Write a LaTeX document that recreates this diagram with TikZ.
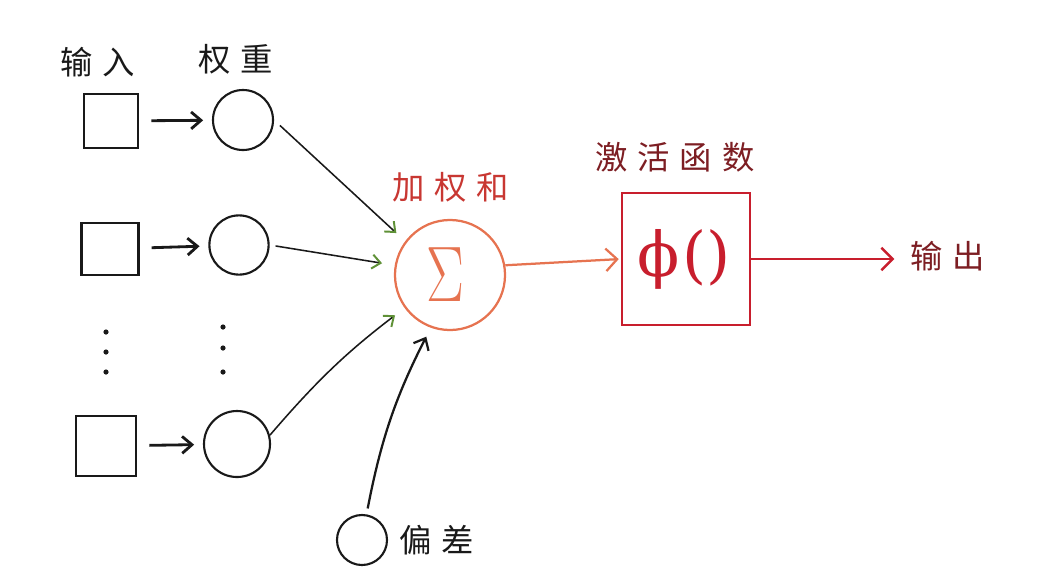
\RequirePackage{fix-cm}
\documentclass[tikz,border=0pt]{standalone}
\usepackage{fontspec}
\usepackage{graphicx}
\newfontfamily\cjk{Noto Sans CJK SC}
\newfontfamily\symf{DejaVu Serif}
\usetikzlibrary{arrows.meta}
\definecolor{ink}{RGB}{25,25,25}
\definecolor{sumcol}{RGB}{230,115,80}
\definecolor{sumtxt}{RGB}{200,55,50}
\definecolor{actcol}{RGB}{200,30,45}
\definecolor{acttxt}{RGB}{125,30,35}
\definecolor{headgreen}{RGB}{95,145,55}
\begin{document}
\begin{tikzpicture}[x=0.025cm,y=-0.025cm,
  lbl/.style={font=\cjk\fontsize{23pt}{26pt}\selectfont, inner sep=0pt},
  inbox/.style={draw=ink, line width=1.8pt, inner sep=0pt},
  wcirc/.style={draw=ink, line width=1.5pt, circle, inner sep=0pt},
  inarrow/.style={draw=ink, line width=2pt, -{Straight Barb[length=7pt,width=12pt,line width=2pt]}, shorten <=0.3cm, shorten >=0.22cm},
  sumarrow/.style={draw=ink, line width=1.1pt, -{Straight Barb[length=6pt,width=10pt,line width=1.4pt,color=headgreen]}},
  biasarrow/.style={draw=ink, line width=1.6pt, -{Straight Barb[length=7pt,width=12pt,line width=1.6pt]}},
]
\useasboundingbox (0,0) rectangle (1057,574);

% labels
\node[lbl, text=ink] (lin) at (98,62) {输\hspace{7pt}入};
\node[lbl, text=ink] (lw) at (236,59) {权\hspace{7pt}重};

% inputs
\node[inbox, minimum width=1.35cm, minimum height=1.35cm] (x1) at (111,121) {};
\node[inbox, minimum width=1.42cm, minimum height=1.3cm] (x2) at (110,249) {};
\node[inbox, minimum width=1.5cm, minimum height=1.5cm] (x3) at (106,446) {};

% weights
\node[wcirc, minimum size=1.5cm] (w1) at (243,120) {};
\node[wcirc, minimum size=1.48cm] (w2) at (239,245) {};
\node[wcirc, minimum size=1.65cm] (w3) at (237,444) {};

% dots
\foreach \yy in {332,352,372} \fill[ink] (106,\yy) circle (0.065cm);
\foreach \yy in {327,348,372} \fill[ink] (223,\yy) circle (0.065cm);

% bias
\node[wcirc, minimum size=1.25cm] (b) at (362,540) {};
\node[lbl, text=ink] (lb) at (437,540) {偏\hspace{7pt}差};

% sum
\node[draw=sumcol, line width=1.6pt, circle, minimum size=2.75cm, inner sep=0pt, text=sumcol] (s) at (450,275)
  {\hspace*{-0.25cm}\scalebox{0.72}[1]{\fontsize{56pt}{60pt}\selectfont$\Sigma$}};
\node[lbl, text=sumtxt] (ls) at (451,187) {加\hspace{7pt}权\hspace{7pt}和};

% activation
\node[draw=actcol, line width=1.8pt, minimum width=3.2cm, minimum height=3.3cm, inner sep=0pt, text=actcol] (f) at (686,259)
  {\hspace*{-0.1cm}\symf\fontsize{44pt}{50pt}\selectfont ϕ\kern2pt()};
\node[lbl, text=acttxt] (lf) at (675,157) {激\hspace{7pt}活\hspace{7pt}函\hspace{7pt}数};

% output
\node[lbl, text=acttxt] (o) at (948,256) {输\hspace{7pt}出};

% connectors
\draw[inarrow] (x1) -- (w1);
\draw[inarrow] (x2) -- (w2);
\draw[inarrow] (x3) -- (w3);

\draw[sumarrow, shorten <=0.2cm, shorten >=0.3cm] (w1.east) -- (s.143);
\draw[sumarrow, shorten <=0.15cm, shorten >=0.32cm] (w2.east) -- (s.170);
\draw[sumarrow, shorten >=0.3cm] (w3.15) to[bend left=6] (s.216);
\draw[biasarrow, shorten <=0.15cm, shorten >=0.25cm] (b.80) to[bend left=8] (s.250);

\draw[draw=sumcol, line width=1.6pt, -{Straight Barb[length=8pt,width=16pt,line width=1.6pt]}, shorten >=0.05cm] (s.10) -- (f.west);
\draw[draw=actcol, line width=1.8pt, -{Straight Barb[length=8pt,width=16pt,line width=1.8pt]}, shorten >=0.4cm] (f.east) -- (f.east -| o.west);
\end{tikzpicture}
\end{document}
